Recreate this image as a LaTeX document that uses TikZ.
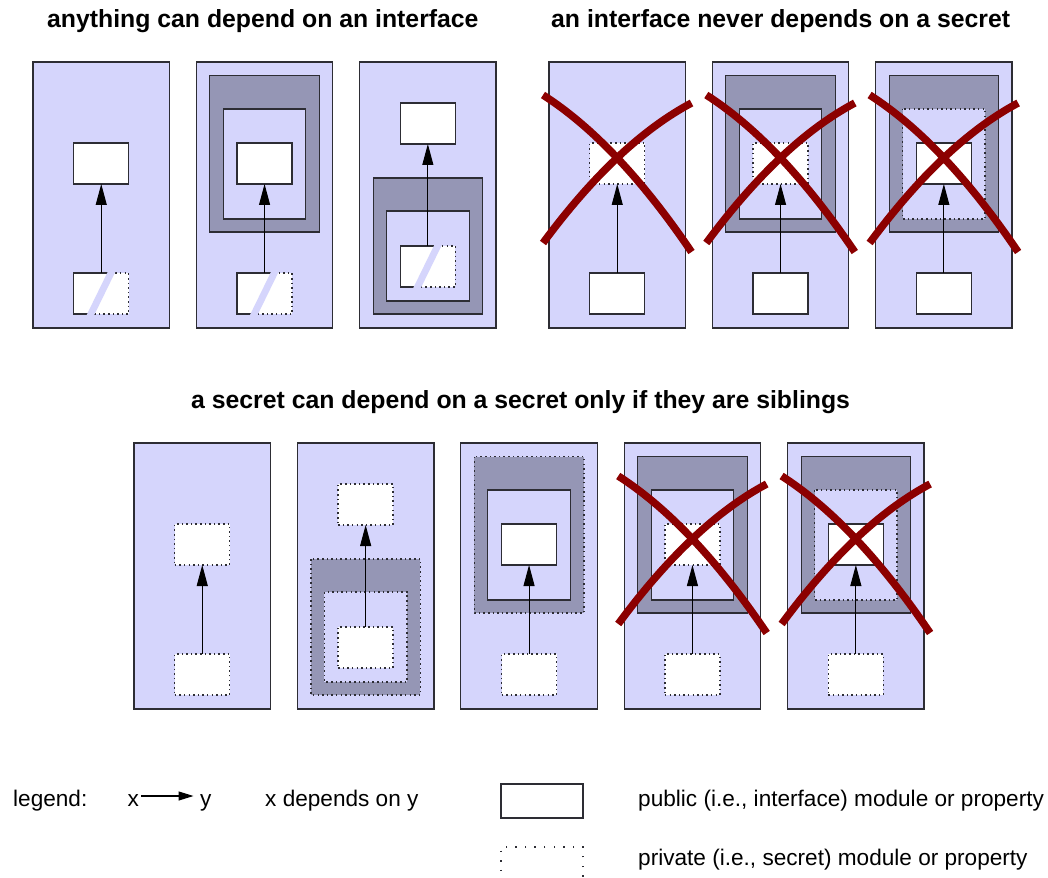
\documentclass[tikz,border=0pt]{standalone}
\usepackage{fontspec}
\setmainfont{Liberation Sans}
\usetikzlibrary{arrows.meta}

\definecolor{lav}{RGB}{213,213,252}
\definecolor{slate}{RGB}{149,150,181}
\definecolor{linegray}{RGB}{45,45,52}
\definecolor{xred}{RGB}{140,0,0}

\tikzset{
  bgpanel/.style={fill=lav, draw=linegray, line width=1.3pt},
  slatefr/.style={fill=slate, draw=linegray, line width=1.2pt},
  lavfr/.style={fill=lav, draw=linegray, line width=1.2pt},
  dotline/.style={dash pattern=on 1.5pt off 3.1pt},
  pub/.style={rectangle, draw=linegray, fill=white, line width=1.2pt,
    minimum width=55pt, minimum height=41pt, inner sep=0pt, outer sep=0pt},
  priv/.style={pub, dotline, line width=1.4pt},
  halfbox/.style={rectangle, fill=white, minimum width=55pt,
    minimum height=41pt, inner sep=0pt, outer sep=0pt},
  dep/.style={-{Triangle[length=21pt,width=11pt]}, line width=1pt, black},
  legdep/.style={-{Triangle[length=15pt,width=9pt]}, line width=1.1pt, black},
  cross/.style={draw=xred, line width=7.5pt},
  titletext/.style={font=\fontsize{24.8pt}{30pt}\selectfont\bfseries,
    inner sep=0pt, anchor=base west},
  legtext/.style={font=\fontsize{22.6pt}{27pt}\selectfont,
    inner sep=0pt, anchor=base west},
}

% panel background (136.5 x 266)
\newcommand\panelbg{\draw[bgpanel] (0,0) rectangle (136.5,266);}
% nested module frames: #1 options of the outer frame, #2 of the inner one
\newcommand\upperframe[2]{%
  \draw[slatefr,#1] (13.5,13.5) rectangle (123,170);
  \draw[lavfr,#2] (27,47) rectangle (109.5,157);}
\newcommand\lowerframe[2]{%
  \draw[slatefr,#1] (13.5,116) rectangle (123,252);
  \draw[lavfr,#2] (27,149) rectangle (109.5,239);}
% half public / half private box outline with a slash
\newcommand\halfborder[1]{%
  \draw[linegray, line width=1.2pt] ([xshift=37pt]#1.north west) -- (#1.north west)
     -- (#1.south west) -- ([xshift=17pt]#1.south west);
  \draw[linegray, line width=1.4pt, dotline] ([xshift=37pt]#1.north west) -- (#1.north east)
     -- (#1.south east) -- ([xshift=17pt]#1.south west);
  \fill[lav] ([xshift=34.15pt,yshift=1.5pt]#1.north west)
     -- ([xshift=41.75pt,yshift=1.5pt]#1.north west)
     -- ([xshift=20.25pt,yshift=-1.5pt]#1.south west)
     -- ([xshift=12.65pt,yshift=-1.5pt]#1.south west) -- cycle;}
% big red cross over a panel
\newcommand\crossout{%
  \draw[cross] (-6,33) .. controls (43.5,64.67) and (93,117) .. (142.5,190);
  \draw[cross] (-6,181) .. controls (43.5,114) and (93,67.33) .. (142.5,41);}

\begin{document}
\begin{tikzpicture}[x=1pt, y=-1pt]
\useasboundingbox (0,0) rectangle (1048,877);

% ---------- titles ----------
\node[titletext] (t1) at (47,27.5) {anything can depend on an interface};
\node[titletext] (t2) at (551,27.5) {an interface never depends on a secret};
\node[titletext] (t3) at (191,408) {a secret can depend on a secret only if they are siblings};

% ---------- top row ----------
\begin{scope}[shift={(33,62)}]
  \panelbg
  \node[pub] (a1) at (68.25,101.5) {};
  \node[halfbox] (a1s) at (68.25,231.5) {};
  \halfborder{a1s}
  \draw[dep] (a1s) -- (a1);
\end{scope}

\begin{scope}[shift={(196.3,62)}]
  \panelbg
  \upperframe{}{}
  \node[pub] (a2) at (68.25,101.5) {};
  \node[halfbox] (a2s) at (68.25,231.5) {};
  \halfborder{a2s}
  \draw[dep] (a2s) -- (a2);
\end{scope}

\begin{scope}[shift={(359.6,62)}]
  \panelbg
  \node[pub] (a3) at (68.25,61.5) {};
  \lowerframe{}{}
  \node[halfbox] (a3s) at (68.25,204.5) {};
  \halfborder{a3s}
  \draw[dep] (a3s) -- (a3);
\end{scope}

\begin{scope}[shift={(549,62)}]
  \panelbg
  \node[priv] (b1) at (68.25,101.5) {};
  \node[pub] (b1s) at (68.25,231.5) {};
  \draw[dep] (b1s) -- (b1);
  \crossout
\end{scope}

\begin{scope}[shift={(712.3,62)}]
  \panelbg
  \upperframe{}{}
  \node[priv] (b2) at (68.25,101.5) {};
  \node[pub] (b2s) at (68.25,231.5) {};
  \draw[dep] (b2s) -- (b2);
  \crossout
\end{scope}

\begin{scope}[shift={(875.6,62)}]
  \panelbg
  \upperframe{}{dotline, line width=1.4pt}
  \node[pub] (b3) at (68.25,101.5) {};
  \node[pub] (b3s) at (68.25,231.5) {};
  \draw[dep] (b3s) -- (b3);
  \crossout
\end{scope}

% ---------- bottom row ----------
\begin{scope}[shift={(134,443)}]
  \panelbg
  \node[priv] (c1) at (68.25,101.5) {};
  \node[priv] (c1s) at (68.25,231.5) {};
  \draw[dep] (c1s) -- (c1);
\end{scope}

\begin{scope}[shift={(297.4,443)}]
  \panelbg
  \node[priv] (c2) at (68.25,61.5) {};
  \lowerframe{dotline, line width=1.4pt}{dotline, line width=1.4pt}
  \node[priv] (c2s) at (68.25,204.5) {};
  \draw[dep] (c2s) -- (c2);
\end{scope}

\begin{scope}[shift={(460.8,443)}]
  \panelbg
  \upperframe{dotline, line width=1.4pt}{}
  \node[pub] (c3) at (68.25,101.5) {};
  \node[priv] (c3s) at (68.25,231.5) {};
  \draw[dep] (c3s) -- (c3);
\end{scope}

\begin{scope}[shift={(624.2,443)}]
  \panelbg
  \upperframe{}{}
  \node[priv] (c4) at (68.25,101.5) {};
  \node[priv] (c4s) at (68.25,231.5) {};
  \draw[dep] (c4s) -- (c4);
  \crossout
\end{scope}

\begin{scope}[shift={(787.6,443)}]
  \panelbg
  \upperframe{}{dotline, line width=1.4pt}
  \node[pub] (c5) at (68.25,101.5) {};
  \node[priv] (c5s) at (68.25,231.5) {};
  \draw[dep] (c5s) -- (c5);
  \crossout
\end{scope}

% ---------- legend ----------
\node[legtext] (lg) at (13,806) {legend:};
\node[legtext] (lx) at (127.5,806) {x};
\node[legtext] (ly) at (200,806) {y};
\draw[legdep] ([xshift=2pt,yshift=10pt]lx.base east) -- ([xshift=-6.5pt,yshift=10pt]ly.base west);
\node[legtext] (ldesc) at (265,806) {x depends on y};

\node[pub, minimum width=82pt, minimum height=34pt, anchor=north west] (lpub) at (501,784) {};
\node[pub, minimum width=82pt, minimum height=34pt, anchor=north west,
      line width=1.3pt, dash pattern=on 1.5pt off 8.1pt] (lpriv) at (501,847) {};
\node[legtext] (tpub) at (638,806) {public (i.e., interface) module or property};
\node[legtext] (tpriv) at (638,865) {private (i.e., secret) module or property};
\end{tikzpicture}
\end{document}
